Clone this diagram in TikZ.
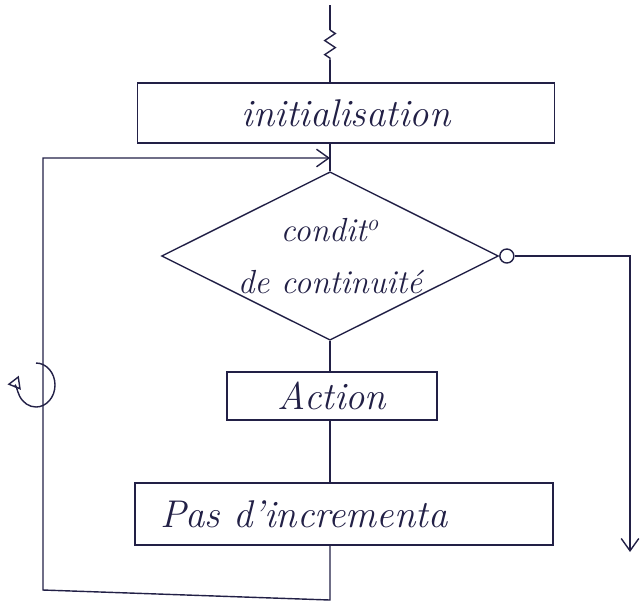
\documentclass[tikz,border=0pt]{standalone}
\usetikzlibrary{shapes.geometric,arrows.meta,decorations.pathmorphing,calc}
\definecolor{ink}{RGB}{34,32,70}
\begin{document}
\begin{tikzpicture}[x=0.02cm,y=-0.02cm,
  line/.style={draw=ink,line width=0.8pt},
  every node/.style={text=ink},
  hand/.style={font=\fontsize{22}{26}\selectfont\itshape},
  stepbox/.style={rectangle,line,inner sep=0pt,hand},
  testbox/.style={diamond,line,inner sep=0pt,aspect=2,
    minimum width=6.4cm,minimum height=3.16cm,align=center,
    font=\fontsize{19}{30}\selectfont\itshape},
  tip/.style={-{Straight Barb[length=7pt,width=10pt]}}]
\useasboundingbox (0,0) rectangle (644,606);

% boxes and test
\node[stepbox,minimum width=8.34cm,minimum height=1.2cm] (init) at (346,113) {initialisation};
\node[testbox] (cond) at (330,256) {condit\textsuperscript{o}\\de continuité};
\node[stepbox,minimum width=4.2cm,minimum height=0.96cm] (act) at (332,396) {Action};
\node[stepbox,minimum width=8.36cm,minimum height=1.24cm,text width=7.36cm,
      align=left,inner xsep=0.5cm] (pas) at (344,514) {Pas d'incrementa};
\node[circle,line,minimum size=0.28cm,inner sep=0pt,
      anchor=west] (exitc) at (cond.east) {};

% spine and loop points
\coordinate (top) at (330,5);
\coordinate (zz1) at (330,30);
\coordinate (zz2) at (330,60);
\coordinate (join) at (330,158);
\coordinate (loopTL) at (43,158);
\coordinate (loopBL) at (43,590);
\coordinate (loopBR) at (330,600);
\coordinate (outEnd) at (630,552);

% incoming line with break mark
\draw[line] (top) -- (zz1);
\draw[line,decorate,decoration={zigzag,segment length=8pt,amplitude=3pt}] (zz1) -- (zz2);
\draw[line] (zz2) -- (init.north -| zz2);

% main sequence
\draw[line] (init.south -| cond.north) -- (cond.north);
\draw[line] (cond.south) -- (act.north -| cond.south);
\draw[line] (act.south -| cond.south) -- (pas.north -| cond.south);

% return loop
\draw[line,tip] (pas.south -| cond.south) -- (loopBR) -- (loopBL) -- (loopTL) -- (join);

% loop direction mark
\draw[line,-{Triangle[open,length=7pt,width=8pt]}] (36,363)
  arc[start angle=-90,end angle=205,x radius=19,y radius=22];

% exit branch
\draw[line,tip] (exitc.east) -- (exitc.east -| outEnd) -- (outEnd);
\end{tikzpicture}
\end{document}
